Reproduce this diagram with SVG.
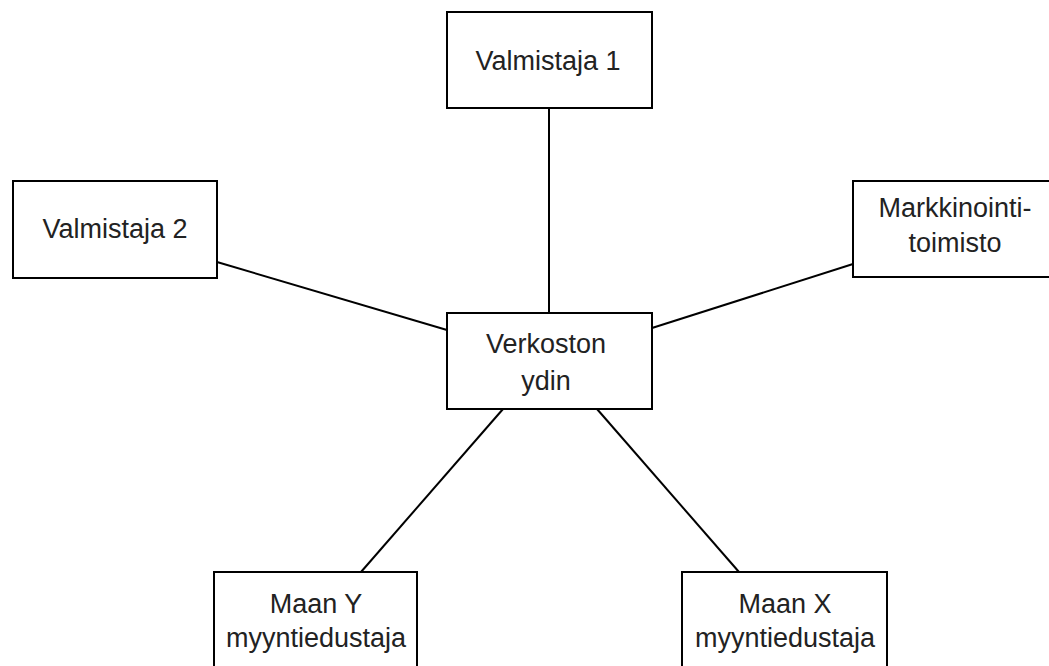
<svg xmlns="http://www.w3.org/2000/svg" width="1049" height="666" viewBox="0 0 1049 666">
<style>
.box{fill:#fff;stroke:#000;stroke-width:2}
.lbl{font-family:"Liberation Sans",Arial,sans-serif;font-size:27px;fill:#222;text-anchor:middle}
.con line{stroke:#000;stroke-width:2}
</style>
<rect width="1049" height="666" fill="#fff"/>
<g class="con" id="connectors">
<line x1="549" y1="108" x2="549" y2="313"/>
<line x1="217" y1="262" x2="447" y2="330"/>
<line x1="853" y1="264" x2="652" y2="328"/>
<line x1="503" y1="409" x2="361" y2="572"/>
<line x1="597" y1="409" x2="739" y2="572"/>
</g>
<g id="valmistaja1"><rect class="box" x="447" y="12" width="205" height="96"/><text class="lbl" x="548" y="70">Valmistaja 1</text></g>
<g id="valmistaja2"><rect class="box" x="13" y="181" width="204" height="97"/><text class="lbl" x="115" y="238">Valmistaja 2</text></g>
<g id="markkinointi"><rect class="box" x="853" y="181" width="210" height="96"/><text class="lbl" x="955" y="217">Markkinointi-</text><text class="lbl" x="955" y="252">toimisto</text></g>
<g id="ydin"><rect class="box" x="447" y="313" width="205" height="96"/><text class="lbl" x="546" y="353">Verkoston</text><text class="lbl" x="546" y="390">ydin</text></g>
<g id="maanY"><rect class="box" x="214" y="572" width="203" height="110"/><text class="lbl" x="316" y="613">Maan Y</text><text class="lbl" x="316" y="647">myyntiedustaja</text></g>
<g id="maanX"><rect class="box" x="682" y="572" width="205" height="110"/><text class="lbl" x="785" y="613">Maan X</text><text class="lbl" x="785" y="647">myyntiedustaja</text></g>
</svg>
